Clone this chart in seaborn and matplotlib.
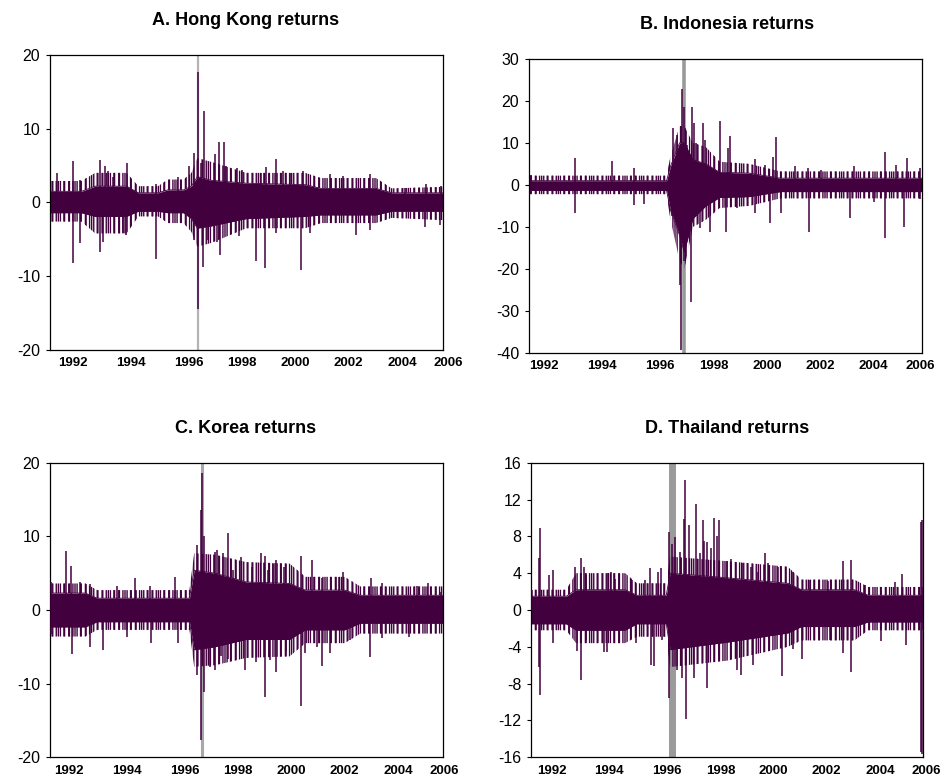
import numpy as np
import matplotlib
matplotlib.use("Agg")
import matplotlib.pyplot as plt
import seaborn as sns

# x positions are given as % of the sample shown (0 = first day, 100 = last day)
year_labels = ['1992', '1994', '1996', '1998', '2000', '2002', '2004', '2006']
year_pos = [4.8, 19.5, 34.3, 47.9, 61.4, 75.0, 88.6, 100.4]

# ---- A. Hong Kong ----
# dense core of the series and the looser outer fringe
hk_band_pos = [0, 8, 11.5, 19.5, 22.5, 27.5, 30, 34, 36, 37.5, 41, 50, 65, 69, 83, 87, 100]
hk_core_hi = [1.5, 1.5, 2.2, 2.2, 1.3, 1.3, 1.7, 1.7, 2.2, 3.5, 3.0, 2.6, 2.4, 1.9, 1.9, 1.3, 1.3]
hk_core_lo = [-1.4, -1.4, -1.9, -1.9, -1.2, -1.2, -1.4, -1.4, -2.2, -3.5, -3.2, -2.2, -1.9, -1.7, -1.7, -1.2, -1.2]
hk_halo_hi = [2.9, 2.9, 4.0, 4.0, 2.2, 2.2, 3.1, 3.1, 4.0, 6.0, 5.5, 4.0, 4.0, 3.3, 3.3, 1.9, 2.1]
hk_halo_lo = [-2.6, -2.6, -4.2, -4.2, -1.9, -1.9, -2.8, -2.8, -4.0, -6.0, -5.5, -3.5, -3.5, -2.8, -2.8, -2.1, -2.4]
# single large daily moves
hk_spike_pos = [1.7, 5.8, 5.8, 7.6, 7.6, 12.7, 12.7, 13.6, 14.0, 14.8, 16.1, 18.6, 19.5, 19.3,
                26.9, 26.9, 32.6, 35.3, 36.6, 36.6, 37.6, 37.6, 38.4, 39.0, 39.3, 40.3, 41.9,
                42.4, 43.1, 43.4, 44.2, 44.9, 47.5, 48.0, 48.9, 52.5, 53.8, 54.7, 55.1, 57.5,
                57.5, 59.3, 61.2, 63.8, 64.4, 66.1, 71.2, 74.6, 78.0, 81.6, 81.6, 90.3, 95.8,
                95.6, 99.2, 99.6]
hk_spike_val = [4.0, 5.6, -8.2, -5.5, 3.1, 5.7, -6.7, -5.3, 4.9, 4.2, 3.5, -4.2, 5.4, -4.4,
                -7.7, 2.5, 3.4, 4.9, 6.7, -5.1, 17.7, -14.5, 5.3, -8.7, 12.4, -5.1, 6.5,
                -5.3, 8.2, -7.1, 8.2, 4.9, 4.7, -4.6, 4.4, -7.9, 4.0, -8.9, 4.8, 5.9,
                -4.2, 4.2, 4.0, -9.2, 4.2, -4.2, 3.8, 3.6, -4.4, 3.8, -3.7, 1.9, 2.5,
                -3.3, -3.0, 2.2]
hk_crisis = 37.7

# ---- B. Indonesia ----
id_band_pos = [0, 35, 36, 38.3, 39.5, 41.7, 45, 48.5, 56, 64, 100]
id_core_hi = [1.0, 1.0, 4.4, 10, 10, 6, 5, 3.0, 2.8, 1.6, 1.6]
id_core_lo = [-1.3, -1.3, -6, -12, -16, -8, -5, -3.0, -2.8, -1.6, -1.6]
id_halo_hi = [2.2, 2.2, 6.7, 14, 14, 10, 9, 5.5, 5.0, 3.2, 3.2]
id_halo_lo = [-2.2, -2.2, -8.3, -18, -20, -10, -8.3, -5.5, -5.0, -3.2, -3.2]
id_spike_pos = [0.6, 11.6, 11.6, 21.2, 26.7, 26.7, 29.3, 36.6, 36.5, 37.7, 38.3, 38.9, 38.8,
                39.4, 39.4, 40.2, 41.2, 41.4, 41.9, 42.6, 43.6, 44.3, 44.7, 46.0, 48.6, 50.0,
                50.6, 51.2, 52.8, 57.4, 57.5, 60.0, 61.2, 62.1, 62.9, 64.2, 67.6, 71.0, 71.2,
                74.4, 81.6, 82.6, 87.7, 90.5, 90.5, 93.3, 95.4, 96.2, 99.6, 99.6]
id_spike_val = [2.4, 6.5, -6.6, 5.6, 4.0, -4.8, -4.6, 13.5, -7.5, 11.9, -23.8, 22.8, -39.2,
                18.6, -18.2, 9.5, -27.8, 18.6, 14.7, 9.9, -10.3, 14.7, 10.7, -11.1, 15.1, -11.1,
                8.7, 11.7, -5.6, -6.7, 6.1, 4.8, -9.0, 6.6, 11.3, -6.7, 4.4, 4.0, -11.1,
                3.6, -7.9, 4.5, -4.0, 7.9, -12.7, 4.8, -10.1, 6.5, 4.0, -3.4]
id_crisis = 39.4

# ---- C. Korea ----
kr_band_pos = [0, 9, 12, 35.5, 36.7, 42, 50, 61, 65, 75, 79, 100]
kr_core_hi = [2.3, 2.3, 1.6, 1.6, 5.4, 5.0, 3.8, 3.6, 2.7, 2.7, 2.0, 2.0]
kr_core_lo = [-2.3, -2.3, -1.6, -1.6, -5.4, -5.0, -4.0, -4.0, -2.7, -2.7, -1.8, -1.8]
kr_halo_hi = [3.6, 3.6, 2.7, 2.7, 7.7, 7.5, 6.5, 6.3, 4.5, 4.5, 3.2, 3.2]
kr_halo_lo = [-3.6, -3.6, -2.7, -2.7, -7.7, -7.5, -6.5, -6.3, -4.5, -4.5, -3.2, -3.2]
kr_spike_pos = [0.2, 0.2, 4.1, 5.3, 5.5, 7.6, 10.2, 10.2, 13.4, 17.1, 19.5, 21.6, 25.4, 25.7,
                31.9, 32.5, 37.3, 37.3, 38.4, 38.6, 38.4, 39.2, 39.2, 40.7, 41.9, 41.9, 42.6,
                43.6, 44.1, 45.3, 45.4, 46.6, 48.7, 49.6, 51.4, 52.5, 53.6, 54.7, 54.7, 55.5,
                55.9, 56.8, 57.5, 57.5, 60.0, 59.7, 63.8, 63.8, 64.8, 66.7, 68.1, 69.2, 69.3,
                71.2, 73.6, 74.7, 76.3, 81.5, 81.8, 84.6, 84.6, 91.5, 93.5, 96.2, 99.6]
kr_spike_val = [3.8, -3.2, 8.0, 6.0, -6.0, 3.8, -5.0, 3.5, -5.4, 3.2, -3.6, 4.4, 3.3, -4.5,
                4.5, -4.5, 8.8, -8.8, 13.6, 18.6, -17.6, -11.1, 10.0, -7.7, -8.1, 7.9, 8.2,
                -6.3, 7.7, 10.5, -6.6, 5.4, 7.2, -8.1, 5.8, -7.0, 7.8, -11.8, 7.3, 5.4,
                -6.8, 6.2, 6.8, -8.4, -5.5, 5.9, 7.3, -13.1, -5.9, 6.8, -5.0, -7.6, 4.4,
                -5.9, 4.5, 5.1, -4.1, -6.4, 4.3, 3.7, -3.8, -3.6, 3.3, 3.6, 2.5]
kr_crisis = 38.6

# ---- D. Thailand ----
th_band_pos = [0, 9, 11.5, 24, 27, 34.5, 35.5, 50, 65.5, 69, 82.5, 86, 100]
th_core_hi = [1.5, 1.5, 2.2, 2.2, 1.6, 1.6, 4.0, 3.5, 2.9, 2.2, 2.2, 1.6, 1.6]
th_core_lo = [-1.5, -1.5, -2.2, -2.2, -1.5, -1.5, -4.3, -3.5, -2.5, -1.8, -1.8, -1.3, -1.3]
th_halo_hi = [2.2, 2.2, 4.0, 4.0, 2.9, 2.9, 5.8, 5.3, 4.7, 3.3, 3.3, 2.5, 2.5]
th_halo_lo = [-2.2, -2.2, -3.6, -3.6, -2.9, -2.9, -6.2, -5.5, -4.0, -3.3, -3.3, -2.2, -2.2]
th_spike_pos = [0.3, 2.0, 2.4, 2.4, 2.0, 4.5, 5.6, 5.6, 11.3, 11.7, 12.8, 12.8, 13.4, 14.1,
                14.1, 18.5, 19.6, 20.4, 19.4, 21.4, 25.7, 26.8, 29.1, 30.4, 30.6, 31.4, 32.3,
                33.1, 33.4, 35.3, 35.3, 35.9, 36.8, 37.2, 38.0, 38.5, 39.1, 39.3, 39.5, 40.2,
                41.6, 42.1, 43.1, 43.8, 44.1, 44.8, 44.8, 45.8, 46.6, 47.5, 48.0, 48.0, 50.1,
                50.9, 52.6, 53.5, 53.7, 56.0, 56.5, 58.0, 59.7, 60.5, 63.1, 64.0, 66.9, 66.9,
                69.0, 71.1, 75.8, 76.2, 79.6, 79.6, 81.5, 81.7, 85.1, 89.4, 92.8, 94.7, 95.6,
                99.4, 99.4, 99.8, 99.8]
th_spike_val = [2.2, 5.6, 8.9, -9.2, -6.2, 3.8, 4.3, -3.6, 4.7, -4.5, 5.6, -7.6, 4.7, 3.8,
                -3.3, -4.6, 4.0, 4.1, -4.6, 3.4, 3.3, -3.6, 3.3, 4.6, -6.0, -6.1, 4.1,
                4.6, -3.3, 8.5, -9.6, 7.2, 7.9, -6.5, 6.3, -7.4, 9.9, 14.1, -11.8, 9.2,
                -7.4, 11.5, 6.2, 9.8, 7.5, -8.5, 7.4, 6.7, 10.0, 8.0, 9.8, -4.9, 5.3,
                5.5, -6.5, -7.1, 5.1, 4.7, -6.0, 4.1, 6.2, 5.1, 4.7, -7.2, 4.1, -4.2,
                -5.3, 3.3, 3.1, -3.3, 5.3, -4.7, -6.7, 5.4, 2.7, -3.4, 3.0, 3.9, -3.8,
                9.6, -15.4, 9.8, -15.6]
th_crisis = 35.9

LINE = '#42003f'

panels = [
    dict(title='A. Hong Kong returns', rect=[0.053, 0.553, 0.416, 0.377],
         title_xy=(0.260, 0.974), shift=1.0,
         bpos=hk_band_pos, chi=hk_core_hi, clo=hk_core_lo, hhi=hk_halo_hi, hlo=hk_halo_lo,
         spos=hk_spike_pos, sval=hk_spike_val, crisis=hk_crisis, cw=1.6, cc='#b4b4b4',
         ylim=(-20, 20), yticks=[-20, -10, 0, 10, 20]),
    dict(title='B. Indonesia returns', rect=[0.5604, 0.549, 0.4163, 0.376],
         title_xy=(0.770, 0.969), shift=-0.9,
         bpos=id_band_pos, chi=id_core_hi, clo=id_core_lo, hhi=id_halo_hi, hlo=id_halo_lo,
         spos=id_spike_pos, sval=id_spike_val, crisis=id_crisis, cw=2.6, cc='#9a9a9a',
         ylim=(-40, 30), yticks=[-40, -30, -20, -10, 0, 10, 20, 30]),
    dict(title='C. Korea returns', rect=[0.053, 0.0328, 0.416, 0.3763],
         title_xy=(0.260, 0.453), shift=0.0,
         bpos=kr_band_pos, chi=kr_core_hi, clo=kr_core_lo, hhi=kr_halo_hi, hlo=kr_halo_lo,
         spos=kr_spike_pos, sval=kr_spike_val, crisis=kr_crisis, cw=2.2, cc='#a8a8a8',
         ylim=(-20, 20), yticks=[-20, -10, 0, 10, 20]),
    dict(title='D. Thailand returns', rect=[0.5625, 0.0328, 0.4153, 0.3763],
         title_xy=(0.770, 0.453), shift=0.4,
         bpos=th_band_pos, chi=th_core_hi, clo=th_core_lo, hhi=th_halo_hi, hlo=th_halo_lo,
         spos=th_spike_pos, sval=th_spike_val, crisis=th_crisis, cw=5.0, cc='#9a9a9a',
         ylim=(-16, 16), yticks=[-16, -12, -8, -4, 0, 4, 8, 12, 16]),
]

sns.set_style('ticks')
plt.rcParams['font.family'] = ['Liberation Sans', 'DejaVu Sans']
plt.rcParams['text.color'] = 'black'
plt.rcParams['hatch.linewidth'] = 1.0
plt.rcParams['hatch.color'] = LINE

fig = plt.figure(figsize=(9.44, 7.83), dpi=100)

for p in panels:
    ax = fig.add_axes(p['rect'])
    ax.axvline(p['crisis'], color=p['cc'], lw=p['cw'], zorder=1)
    # loose fringe: two overlapping vertical hatchings of different pitch
    for hatch in ['|||', '||||']:
        ax.fill_between(p['bpos'], p['chi'], p['hhi'], facecolor='none', edgecolor=LINE,
                        hatch=hatch, lw=0, zorder=2)
        ax.fill_between(p['bpos'], p['hlo'], p['clo'], facecolor='none', edgecolor=LINE,
                        hatch=hatch, lw=0, zorder=2)
    # solid core
    ax.fill_between(p['bpos'], p['clo'], p['chi'], color=LINE, lw=0, zorder=2)
    sns.lineplot(x=p['bpos'], y=p['chi'], ax=ax, color=LINE, lw=0.6, zorder=2)
    sns.lineplot(x=p['bpos'], y=p['clo'], ax=ax, color=LINE, lw=0.6, zorder=2)
    ax.vlines(p['spos'], 0, p['sval'], color=LINE, lw=1.1, zorder=3)

    ax.set_xlim(0, 100)
    ax.set_ylim(*p['ylim'])
    ax.set_yticks(p['yticks'])
    ax.set_yticklabels([str(v) for v in p['yticks']])
    ax.set_xticks([])
    ax.tick_params(axis='y', direction='out', length=3, width=0.8, pad=4,
                   labelsize=11.5, colors='black')
    for s in ax.spines.values():
        s.set_visible(True)
        s.set_color('black')
        s.set_linewidth(0.9)

    for lab, xp in zip(year_labels, year_pos):
        ax.text(xp + p['shift'], -0.045, lab, transform=ax.get_xaxis_transform(),
                ha='center', va='center', fontsize=9.5, fontweight='bold', clip_on=False)

    fig.text(p['title_xy'][0], p['title_xy'][1], p['title'], ha='center', va='center',
             fontsize=13, fontweight='bold')

fig.savefig('out.png', dpi=100)
